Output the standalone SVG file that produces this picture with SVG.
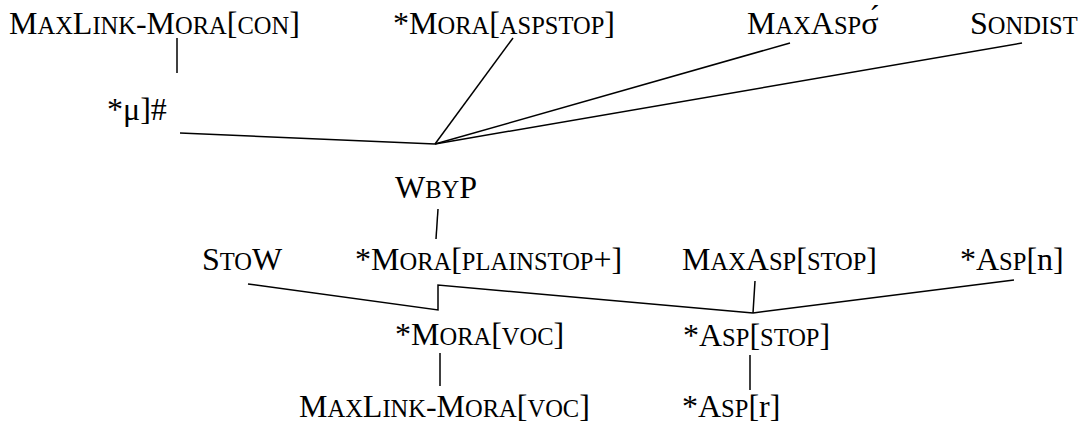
<svg xmlns="http://www.w3.org/2000/svg" width="1089" height="425" viewBox="0 0 1089 425">
<style>
text{font-family:"Liberation Serif","Times New Roman",serif;font-size:32px;fill:#000}
.s{font-size:24.5px}
.c{fill:none;stroke:#000;stroke-width:1.5}
</style>
<rect width="1089" height="425" fill="#fff"/>
<g id="connectors" class="c">
<line x1="177" y1="38" x2="177" y2="73"/>
<line x1="180" y1="133" x2="435" y2="144"/>
<line x1="435" y1="144" x2="513" y2="38"/>
<line x1="435" y1="144" x2="790" y2="43"/>
<line x1="435" y1="144" x2="1022" y2="43"/>
<line x1="438" y1="209" x2="436" y2="239"/>
<polyline points="248,284 438,310 438,285 753,313"/>
<line x1="755" y1="281" x2="753" y2="313"/>
<line x1="1014" y1="280" x2="753" y2="313"/>
<line x1="440" y1="353" x2="440" y2="386"/>
<line x1="750" y1="355" x2="750" y2="390"/>
</g>
<g id="maxlink-mora-con"><text x="9" y="34">M<tspan class="s">AX</tspan>L<tspan class="s">INK</tspan>-M<tspan class="s">ORA</tspan>[<tspan class="s">CON</tspan>]</text></g>
<g id="mora-aspstop"><text x="393" y="34">*M<tspan class="s">ORA</tspan>[<tspan class="s">ASPSTOP</tspan>]</text></g>
<g id="maxasp-sigma"><text x="747" y="34">M<tspan class="s">AX</tspan>A<tspan class="s">SP</tspan>σ́</text></g>
<g id="sondist"><text x="970" y="34">S<tspan class="s">ONDIST</tspan></text></g>
<g id="mu-edge"><text x="107" y="120">*μ]#</text></g>
<g id="wbyp"><text x="395" y="198">W<tspan class="s">BY</tspan>P</text></g>
<g id="stow"><text x="202" y="270">S<tspan class="s">TO</tspan>W</text></g>
<g id="mora-plainstop"><text x="355" y="270">*M<tspan class="s">ORA</tspan>[<tspan class="s">PLAINSTOP</tspan>+]</text></g>
<g id="maxasp-stop"><text x="682" y="270">M<tspan class="s">AX</tspan>A<tspan class="s">SP</tspan>[<tspan class="s">STOP</tspan>]</text></g>
<g id="asp-n"><text x="960" y="270">*A<tspan class="s">SP</tspan>[n]</text></g>
<g id="mora-voc"><text x="395" y="345">*M<tspan class="s">ORA</tspan>[<tspan class="s">VOC</tspan>]</text></g>
<g id="asp-stop"><text x="683" y="346">*A<tspan class="s">SP</tspan>[<tspan class="s">STOP</tspan>]</text></g>
<g id="maxlink-mora-voc"><text x="299" y="417">M<tspan class="s">AX</tspan>L<tspan class="s">INK</tspan>-M<tspan class="s">ORA</tspan>[<tspan class="s">VOC</tspan>]</text></g>
<g id="asp-r"><text x="682" y="417">*A<tspan class="s">SP</tspan>[r]</text></g>
</svg>
